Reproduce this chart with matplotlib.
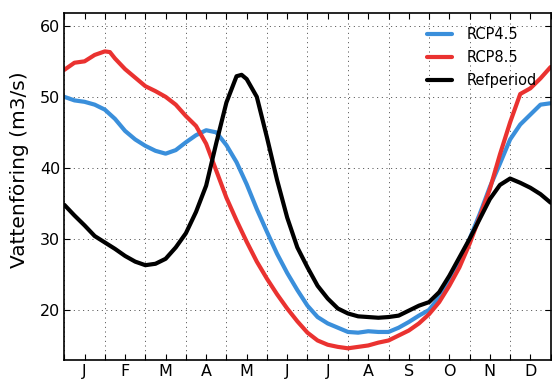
import numpy as np
import matplotlib
matplotlib.use("Agg")
import matplotlib.pyplot as plt
from matplotlib.ticker import FixedLocator, NullFormatter, FixedFormatter

# --- data (x in months from 1 Jan, quarter-month sampling) ---
month_pos = [i * 0.25 for i in range(49)]

rcp45 = [50.0, 49.5, 49.3, 48.9, 48.2, 46.9, 45.2, 44.0, 43.1, 42.4, 42.0, 42.5,
         43.6, 44.6, 45.3, 45.0, 43.2, 40.8, 37.7, 34.2, 31.0, 27.9, 25.2, 22.8,
         20.6, 19.0, 18.1, 17.5, 16.9, 16.8, 17.0, 16.9, 16.9, 17.5, 18.3, 19.2,
         20.0, 21.8, 24.1, 26.7, 30.0, 33.5, 37.3, 40.6, 44.0, 46.1, 47.5, 48.9, 49.1]

rcp85 = [53.8, 54.8, 55.0, 55.9, 56.4, 55.4, 53.9, 52.7, 51.5, 50.8, 50.0, 48.9,
         47.3, 45.9, 43.4, 39.6, 35.8, 32.6, 29.6, 26.8, 24.4, 22.2, 20.2, 18.4,
         16.8, 15.7, 15.1, 14.8, 14.6, 14.8, 15.0, 15.4, 15.7, 16.4, 17.1, 18.1,
         19.4, 21.1, 23.4, 26.0, 29.3, 33.1, 37.0, 41.9, 46.4, 50.4, 51.2, 52.6, 54.2]

refperiod = [34.8, 33.3, 31.9, 30.4, 29.5, 28.6, 27.6, 26.8, 26.3, 26.5, 27.2, 28.8,
             30.8, 33.8, 37.5, 43.5, 49.2, 52.9, 52.5, 50.0, 44.3, 38.3, 33.0, 28.8,
             26.0, 23.4, 21.6, 20.2, 19.5, 19.1, 19.0, 18.9, 19.0, 19.2, 19.9, 20.6,
             21.1, 22.5, 24.8, 27.4, 30.0, 32.8, 35.6, 37.6, 38.5, 37.9, 37.2, 36.3, 35.1]

# extra readings at local peaks (month position, value)
rcp85_peak = (1.125, 56.3)
ref_peak = (4.375, 53.1)

month_labels = ["J", "F", "M", "A", "M", "J", "J", "A", "S", "O", "N", "D"]
month_edges = list(range(13))
month_mids = [m + 0.5 for m in range(12)]
y_ticks = [20, 30, 40, 50, 60]

series_names = ["RCP4.5", "RCP8.5", "Refperiod"]
colors = ["#3a8fdb", "#ea3230", "#000000"]


def with_point(xs, ys, pt):
    pairs = sorted(list(zip(xs, ys)) + [pt])
    return [p[0] for p in pairs], [p[1] for p in pairs]


plt.rcParams['font.family'] = ['DejaVu Sans']

fig = plt.figure(figsize=(5.52, 3.83), dpi=100)
ax = fig.add_axes([0.1165, 0.06, 0.881, 0.906])

x45, y45 = month_pos, rcp45
x85, y85 = with_point(month_pos, rcp85, rcp85_peak)
xrf, yrf = with_point(month_pos, refperiod, ref_peak)

for (xs, ys), name, col in zip([(x45, y45), (x85, y85), (xrf, yrf)], series_names, colors):
    ax.plot(xs, ys, color=col, lw=3.0, label=name,
            solid_capstyle='round', solid_joinstyle='round')

ax.set_xlim(0, 12)
ax.set_ylim(12.95, 61.8)

ax.xaxis.set_major_locator(FixedLocator(month_edges))
ax.xaxis.set_major_formatter(NullFormatter())
ax.xaxis.set_minor_locator(FixedLocator(month_mids))
ax.xaxis.set_minor_formatter(FixedFormatter(month_labels))
ax.set_yticks(y_ticks)

ax.tick_params(axis='both', which='both', direction='in', top=True, right=True,
               length=4, width=0.8, labelsize=11.5, pad=3)
ax.tick_params(axis='x', which='both', pad=3)

ax.grid(True, which='major', color='#444444', linestyle=(0, (1.0, 3.8)), linewidth=0.7)

for sp in ax.spines.values():
    sp.set_linewidth(1.2)

ax.set_ylabel("Vattenföring (m3/s)", fontsize=14.5)
ax.yaxis.set_label_coords(-0.073, 0.548)

leg = ax.legend(loc='upper right', frameon=False, fontsize=10.5, handlelength=1.7,
                handletextpad=1.0, labelspacing=0.55, borderaxespad=0.55)

fig.savefig("out.png", dpi=100)
